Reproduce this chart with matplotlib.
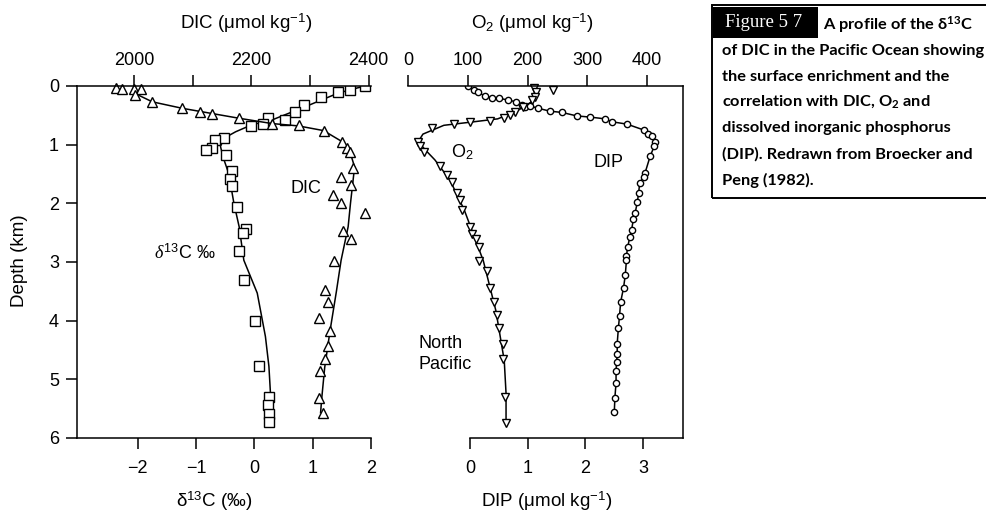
import matplotlib
matplotlib.use('Agg')
import matplotlib.pyplot as plt
from matplotlib.patches import Rectangle

plt.rcParams['font.family'] = ['Liberation Sans', 'DejaVu Sans']
plt.rcParams['mathtext.fontset'] = 'custom'
plt.rcParams['mathtext.rm'] = 'Liberation Sans'
plt.rcParams['mathtext.it'] = 'Liberation Serif:italic'
plt.rcParams['mathtext.bf'] = 'Lato:bold'

# ---- left panel: DIC (triangles) and delta13C (squares) ----
dic_val = [1969, 1980, 2000, 2011, 2002, 2031, 2082, 2113, 2132, 2179, 2235, 2282,
           2323, 2355, 2363, 2369, 2374, 2353, 2370, 2340, 2352, 2393, 2356, 2370,
           2341, 2325, 2331, 2315, 2334, 2331, 2326, 2317, 2315, 2322]
dic_depth = [0.04, 0.05, 0.05, 0.05, 0.15, 0.27, 0.38, 0.44, 0.48, 0.55, 0.65, 0.67,
             0.76, 0.95, 1.06, 1.12, 1.40, 1.55, 1.69, 1.86, 2.00, 2.17, 2.47, 2.60,
             2.99, 3.47, 3.69, 3.95, 4.18, 4.43, 4.66, 4.85, 5.32, 5.57]
dic_fit_val = [2002, 2031, 2082, 2179, 2235, 2280, 2323, 2355, 2369, 2376, 2369,
               2365, 2353, 2345, 2334, 2325, 2320, 2318]
dic_fit_depth = [0.13, 0.27, 0.38, 0.55, 0.64, 0.68, 0.76, 0.95, 1.15, 1.38, 2.0,
                 2.4, 2.97, 3.5, 4.18, 4.8, 5.32, 5.57]

d13c_val = [1.89, 1.64, 1.44, 1.15, 0.86, 0.70, 0.52, 0.24, 0.15, -0.05, -0.52, -0.68,
            -0.72, -0.82, -0.49, -0.39, -0.41, -0.39, -0.29, -0.14, -0.20, -0.26,
            -0.18, 0.01, 0.08, 0.26, 0.23, 0.26, 0.26]
d13c_depth = [0.0, 0.06, 0.11, 0.19, 0.32, 0.45, 0.58, 0.55, 0.64, 0.68, 0.89, 0.92,
              1.06, 1.09, 1.18, 1.45, 1.59, 1.70, 2.06, 2.43, 2.51, 2.81, 3.31, 4.0,
              4.77, 5.30, 5.43, 5.59, 5.72]
d13c_fit_val = [1.89, 1.44, 0.88, 0.30, -0.04, -0.32, -0.52, -0.58, -0.54, -0.44,
                -0.35, -0.26, -0.18, 0.05, 0.19, 0.25, 0.28]
d13c_fit_depth = [0.0, 0.12, 0.35, 0.58, 0.66, 0.78, 0.89, 1.03, 1.20, 1.49, 2.0,
                  2.40, 2.97, 3.53, 4.27, 4.78, 5.30]

# ---- right panel: O2 (triangles) and DIP (circles) ----
o2_val = [211, 214, 242, 213, 207, 193, 179, 171, 160, 138, 104, 77, 40, 17, 20, 26,
          54, 66, 73, 82, 87, 90, 103, 107, 114, 119, 119, 132, 137, 144, 149, 153,
          159, 159, 162, 164]
o2_depth = [0.04, 0.10, 0.07, 0.18, 0.24, 0.35, 0.44, 0.49, 0.55, 0.59, 0.61, 0.65,
            0.72, 0.95, 1.03, 1.12, 1.36, 1.52, 1.63, 1.83, 1.94, 2.11, 2.40, 2.52,
            2.61, 2.74, 2.98, 3.16, 3.45, 3.68, 3.90, 4.13, 4.39, 4.66, 5.30, 5.75]
o2_fit_val = [214, 205, 190, 175, 150, 110, 60, 25, 17, 30, 45, 70, 94, 126, 147,
              161, 164, 164]
o2_fit_depth = [0.05, 0.28, 0.38, 0.46, 0.56, 0.61, 0.67, 0.82, 0.95, 1.1, 1.26, 1.6,
                2.11, 2.98, 3.83, 4.68, 5.24, 5.75]

dip_val = [-0.03, 0.06, 0.14, 0.26, 0.38, 0.51, 0.66, 0.80, 0.90, 0.95, 1.04, 1.18,
           1.39, 1.59, 1.85, 2.08, 2.34, 2.46, 2.72, 3.01, 3.09, 3.15, 3.21, 3.19,
           3.12, 3.03, 3.01, 2.94, 2.92, 2.90, 2.86, 2.83, 2.80, 2.77, 2.73, 2.71,
           2.71, 2.69, 2.66, 2.61, 2.59, 2.57, 2.55, 2.55, 2.54, 2.53, 2.53, 2.51, 2.50]
dip_depth = [0.0, 0.07, 0.11, 0.17, 0.20, 0.21, 0.24, 0.27, 0.32, 0.35, 0.34, 0.38,
             0.43, 0.45, 0.51, 0.53, 0.56, 0.61, 0.65, 0.75, 0.81, 0.86, 0.95, 1.03,
             1.20, 1.49, 1.55, 1.65, 1.83, 1.97, 2.17, 2.27, 2.45, 2.57, 2.75, 2.90,
             2.97, 3.22, 3.44, 3.68, 3.92, 4.13, 4.39, 4.57, 4.70, 4.85, 5.06, 5.31, 5.55]

W, H = 987, 513
fig = plt.figure(figsize=(W / 100, H / 100), dpi=100)


def fx(px):
    return px / W


def fy(py):
    return 1 - py / H


lw = 1.1
fs_tick = 13
fs_lab = 13.5
fs_ann = 13
tick_kw = dict(direction='out', length=8, width=lw, labelsize=fs_tick)

# left panel
ax1 = fig.add_axes([fx(77), fy(438), (371 - 77) / W, (438 - 86) / H])
ax1.set_xlim(-3.04, 2.0)
ax1.set_ylim(6, 0)
ax1.plot(d13c_fit_val, d13c_fit_depth, color='black', lw=lw)
ax1.plot(d13c_val, d13c_depth, ls='none', marker='s', ms=6.8, mfc='white',
         mec='black', mew=1.0)
ax1.set_xticks([-2, -1, 0, 1, 2])
ax1.set_xticklabels(['\u22122', '\u22121', '0', '1', '2'])
ax1.set_yticks(range(7))
ax1.tick_params(axis='x', pad=8, **tick_kw)
ax1.tick_params(axis='y', pad=5, **tick_kw)
ax1.spines['right'].set_visible(False)
ax1.spines['top'].set_visible(False)
ax1.spines['left'].set_linewidth(lw)
ax1.spines['bottom'].set_linewidth(lw)
ax1.text(-1.2, 2.85, '$\\delta^{13}$C \u2030', fontsize=fs_ann, ha='center', va='center')

ax1t = ax1.twiny()
ax1t.set_xlim(1902.5, 2404)
ax1t.plot(dic_fit_val, dic_fit_depth, color='black', lw=lw)
ax1t.plot(dic_val, dic_depth, ls='none', marker='^', ms=7.5, mfc='white',
          mec='black', mew=1.0, clip_on=False)
ax1t.set_xticks([2000, 2100, 2200, 2300, 2400])
ax1t.set_xticklabels(['2000', '', '2200', '', '2400'])
ax1t.tick_params(axis='x', pad=4, **tick_kw)
for s in ['right', 'bottom', 'left']:
    ax1t.spines[s].set_visible(False)
ax1t.spines['top'].set_linewidth(lw)
ax1t.text(2293, 1.74, 'DIC', fontsize=fs_ann, ha='center', va='center')

# right panel
ax2 = fig.add_axes([fx(408), fy(438), (683 - 408) / W, (438 - 86) / H])
ax2.set_xlim(-1.075, 3.69)
ax2.set_ylim(6, 0)
ax2.plot(dip_val, dip_depth, color='black', lw=lw, marker='o', ms=4.5,
         mfc='white', mec='black', mew=1.0)
ax2.set_xticks([0, 1, 2, 3])
ax2.tick_params(axis='x', pad=8, **tick_kw)
ax2.tick_params(axis='y', left=False, labelleft=False)
ax2.spines['left'].set_visible(False)
ax2.spines['top'].set_visible(False)
ax2.spines['bottom'].set_bounds(0, 3.69)
ax2.spines['bottom'].set_linewidth(lw)
ax2.spines['right'].set_linewidth(lw)

ax2t = ax2.twiny()
ax2t.set_xlim(0, 460)
ax2t.plot(o2_fit_val, o2_fit_depth, color='black', lw=lw)
ax2t.plot(o2_val, o2_depth, ls='none', marker='v', ms=6, mfc='white',
          mec='black', mew=1.0, clip_on=False)
ax2t.set_xticks([0, 100, 200, 300, 400])
ax2t.tick_params(axis='x', pad=4, **tick_kw)
for s in ['right', 'bottom', 'left']:
    ax2t.spines[s].set_visible(False)
ax2t.spines['top'].set_linewidth(lw)
ax2t.text(90, 1.12, 'O$_2$', fontsize=fs_ann, ha='center', va='center')
ax2t.text(336, 1.30, 'DIP', fontsize=fs_ann, ha='center', va='center')
ax2t.text(17, 4.57, 'North\nPacific', fontsize=fs_ann, ha='left', va='center',
          linespacing=1.25)

# axis titles
fig.text(fx(246), fy(23), 'DIC (\u03bcmol kg$^{-1}$)', fontsize=fs_lab, ha='center', va='center')
fig.text(fx(532), fy(23), 'O$_2$ (\u03bcmol kg$^{-1}$)', fontsize=fs_lab, ha='center', va='center')
fig.text(fx(214), fy(501), '\u03b4$^{13}$C (\u2030)', fontsize=fs_lab, ha='center', va='center')
fig.text(fx(547), fy(501), 'DIP (\u03bcmol kg$^{-1}$)', fontsize=fs_lab, ha='center', va='center')
fig.text(fx(20), fy(261), 'Depth (km)', fontsize=fs_lab, ha='center', va='center', rotation=90)

# caption box
fig.add_artist(Rectangle((fx(712), fy(198)), fx(990 - 712), (198 - 5) / H,
                         transform=fig.transFigure, fill=False, ec='black', lw=1.4))
fig.add_artist(Rectangle((fx(713), fy(38)), fx(818 - 713), (38 - 7) / H,
                         transform=fig.transFigure, fc='black', ec='none'))
fig.text(fx(764), fy(23), 'Figure 5 7', color='white', fontsize=13.5,
         family='Liberation Serif', ha='center', va='center')

caption = ['A profile of the \u03b4$^{\\mathbf{13}}$C',
           'of DIC in the Pacific Ocean showing',
           'the surface enrichment and the',
           'correlation with DIC, O$_\\mathbf{2}$ and',
           'dissolved inorganic phosphorus',
           '(DIP). Redrawn from Broecker and',
           'Peng (1982).']
cap_y = [25, 51, 77, 102, 128, 154, 180]
for i, (line, yy) in enumerate(zip(caption, cap_y)):
    fig.text(fx(823 if i == 0 else 722), fy(yy), line, fontsize=11.8,
             family=['Lato', 'DejaVu Sans'], weight='bold', ha='left', va='center')

fig.savefig('out.png', dpi=100)
